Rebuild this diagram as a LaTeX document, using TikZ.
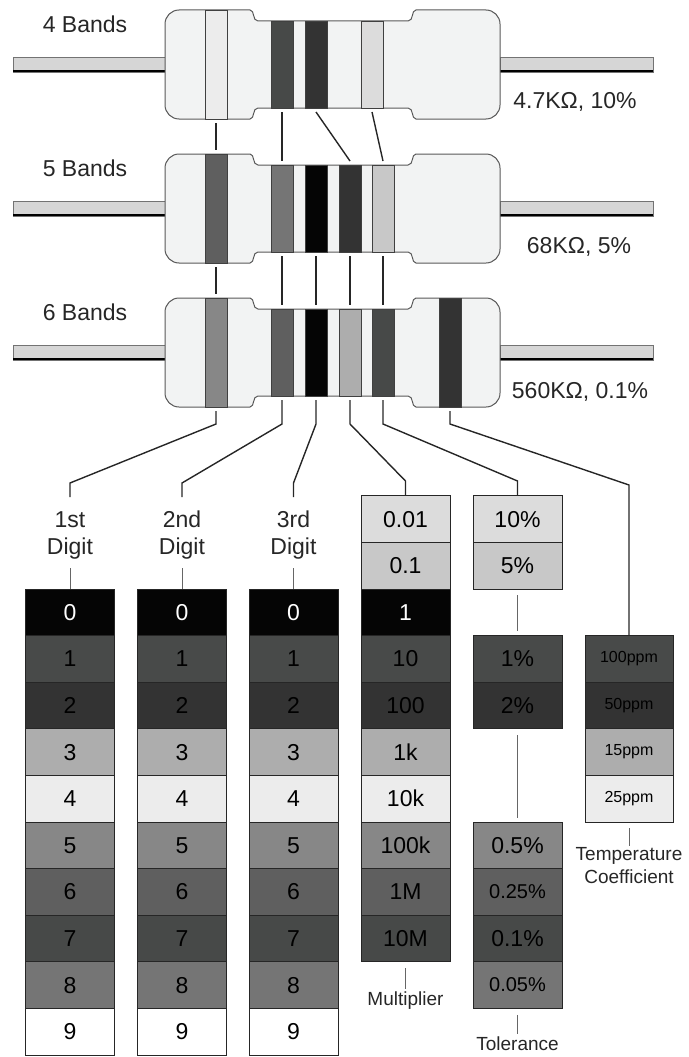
\documentclass[tikz,border=0pt]{standalone}
\usepackage{fontspec}
\setmainfont{Liberation Sans}
\usetikzlibrary{positioning,calc}

% colour code, printed in grey
\definecolor{cblack}{HTML}{050505}
\definecolor{cbrown}{HTML}{484A49}
\definecolor{cred}{HTML}{333333}
\definecolor{corange}{HTML}{ADADAD}
\definecolor{cyellow}{HTML}{ECECEC}
\definecolor{cgreen}{HTML}{878787}
\definecolor{cblue}{HTML}{5F5F5F}
\definecolor{cviolet}{HTML}{474948}
\definecolor{cgrey}{HTML}{757575}
\definecolor{cwhite}{HTML}{FFFFFF}
\definecolor{cgold}{HTML}{C8C8C8}
\definecolor{csilver}{HTML}{DCDCDC}
\definecolor{bodycol}{HTML}{F2F3F3}

% resistor with its two leads, #1 = top edge
\newcommand{\resbody}[1]{%
  \draw[lead] (13,#1+47) rectangle (165,#1+62);
  \draw[line width=2] (13,#1+61) -- (165,#1+61);
  \draw[lead] (500,#1+47) rectangle (653,#1+62);
  \draw[line width=2] (500,#1+61) -- (653,#1+61);
  \draw[body] (250,#1) -- (179,#1) .. controls (171.3,#1) and (165,#1+6.3) .. (165,#1+14)
    -- (165,#1+95) .. controls (165,#1+102.7) and (171.3,#1+109) .. (179,#1+109)
    -- (250,#1+109) .. controls (255,#1+109) and (252,#1+98) .. (258,#1+98)
    -- (408,#1+98) .. controls (414,#1+98) and (411,#1+109) .. (416,#1+109)
    -- (486,#1+109) .. controls (493.7,#1+109) and (500,#1+102.7) .. (500,#1+95)
    -- (500,#1+14) .. controls (500,#1+6.3) and (493.7,#1) .. (486,#1)
    -- (416,#1) .. controls (411,#1) and (414,#1+11) .. (408,#1+11)
    -- (258,#1+11) .. controls (252,#1+11) and (255,#1) .. (250,#1) -- cycle;
}
% bands: #1 = top edge, #2 = x, #3 = colour
\newcommand{\wideband}[3]{\draw[band, fill=#3] (#2-11,#1) rectangle (#2+11,#1+109);}
\newcommand{\midband}[3]{\draw[band, fill=#3] (#2-11,#1+11) rectangle (#2+11,#1+98);}

\begin{document}
\begin{tikzpicture}[x=1pt, y=-1pt,
    lead/.style={draw=black!55, fill=black!16, line width=0.8},
    body/.style={draw=black!65, fill=bodycol, line width=1},
    band/.style={draw=black!75, line width=0.8},
    wire/.style={line width=1.4, black!85},
    stub/.style={line width=0.7, black!60},
    lbl/.style={font=\fontsize{23}{27}\selectfont, text=black!85, inner sep=0},
    tag/.style={font=\fontsize{19}{23}\selectfont, text=black!85, inner sep=0},
    cell/.style={draw=black!85, line width=0.8, minimum width=89, minimum height=46.6,
      inner sep=0, font=\fontsize{23}{23}\selectfont}]
    \useasboundingbox (0,0) rectangle (688,1057);

    % 4 bands: 4.7K, 10%
    \resbody{10}
    \wideband{10}{216}{cyellow}
    \midband{10}{282}{cviolet}
    \midband{10}{316}{cred}
    \midband{10}{372}{csilver}
    \node[lbl] (t4) at (85,24) {4 Bands};
    \node[lbl, anchor=base] (v4) at (575,108) {4.7KΩ, 10\%};

    % 5 bands: 68K, 5%
    \resbody{154}
    \wideband{154}{216}{cblue}
    \midband{154}{282}{cgrey}
    \midband{154}{316}{cblack}
    \midband{154}{350}{cred}
    \midband{154}{383}{cgold}
    \node[lbl] (t5) at (85,168) {5 Bands};
    \node[lbl, anchor=base] (v5) at (579,253) {68KΩ, 5\%};

    % 6 bands: 560K, 0.1%
    \resbody{298}
    \wideband{298}{216}{cgreen}
    \midband{298}{282}{cblue}
    \midband{298}{316}{cblack}
    \midband{298}{350}{corange}
    \midband{298}{383}{cviolet}
    \wideband{298}{450}{cred}
    \node[lbl] (t6) at (85,312) {6 Bands};
    \node[lbl, anchor=base] (v6) at (580,398) {560KΩ, 0.1\%};

    % band ends
    \coordinate (a1) at (216,123);
    \foreach \i/\x in {2/282,3/316,4/372} \coordinate (a\i) at (\x,112);
    \coordinate (b1t) at (216,150);
    \coordinate (b1) at (216,267);
    \foreach \i/\x in {2/282,3/316,4/350,5/383} {
      \coordinate (b\i t) at (\x,161);
      \coordinate (b\i) at (\x,256);
    }
    \coordinate (c1t) at (216,294);
    \coordinate (c1) at (216,411);
    \foreach \i/\x in {2/282,3/316,4/350,5/383} {
      \coordinate (c\i t) at (\x,305);
      \coordinate (c\i) at (\x,400);
    }
    \coordinate (c6) at (450,411);

    % 4 bands -> 5 bands -> 6 bands
    \draw[wire] (a1) -- (b1t);
    \draw[wire] (a2) -- (b2t);
    \draw[wire] (a3) -- (b4t);
    \draw[wire] (a4) -- (b5t);
    \foreach \i in {1,...,5} \draw[wire] (b\i) -- (c\i t);

    % digit columns
    \foreach \x/\k/\s in {70/1/1st,182/2/2nd,293.5/3/3rd} {
      \foreach \v/\c/\t [count=\r from 0] in {0/cblack/white,1/cbrown/black,2/cred/black,
          3/corange/black,4/cyellow/black,5/cgreen/black,6/cblue/black,7/cviolet/black,
          8/cgrey/black,9/cwhite/black}
        \node[cell, fill=\c, text=\t] (d\k-\r) at (\x,612.3+46.6*\r) {\v};
      \node[lbl, align=center] (l\k) at (\x,535) {\s\\Digit};
      \draw[stub] (d\k-0.north) -- ++(0,-21);
    }

    % multiplier
    \foreach \v/\c/\t [count=\r] in {0.01/csilver/black,0.1/cgold/black,1/cblack/white,
        10/cbrown/black,100/cred/black,1k/corange/black,10k/cyellow/black,
        100k/cgreen/black,1M/cblue/black,10M/cviolet/black}
      \node[cell, fill=\c, text=\t] (mul\r) at (405.5,612.3+46.6*\r-139.8) {\v};
    \node[tag] (mlab) at (405.5,1001) {Multiplier};
    \draw[stub, shorten <=6pt, shorten >=3pt] (mul10.south) -- (mlab.north);

    % tolerance
    \foreach \v/\y/\c/\s [count=\r] in {10\%/-2/csilver/23,5\%/-1/cgold/23,
        1\%/1/cbrown/23,2\%/2/cred/23,0.5\%/5/cgreen/23,0.25\%/6/cblue/20,
        0.1\%/7/cviolet/23,0.05\%/8/cgrey/20}
      \node[cell, fill=\c, font=\fontsize{\s}{\s}\selectfont] (tol\r) at (517.5,612.3+46.6*\y) {\v};
    \draw[stub, shorten <=6pt, shorten >=4pt] (tol2.south) -- (tol3.north);
    \draw[stub, shorten <=6pt, shorten >=4pt] (tol4.south) -- (tol5.north);
    \node[tag] (tlab) at (517.5,1044) {Tolerance};
    \draw[stub, shorten <=6pt, shorten >=3pt] (tol8.south) -- (tlab.north);

    % temperature coefficient
    \foreach \v/\c [count=\r] in {100ppm/cbrown,50ppm/cred,15ppm/corange,25ppm/cyellow}
      \node[cell, fill=\c, minimum width=88, font=\fontsize{16}{16}\selectfont] (tc\r) at (629,612.3+46.6*\r) {\v};
    \node[tag, align=center] (clab) at (629,866) {Temperature\\Coefficient};
    \draw[stub, shorten <=6pt, shorten >=2pt] (tc4.south) -- (clab.north);

    % 6 bands -> tables
    \coordinate (k) at (0,424);
    \coordinate (h1) at (70,483);
    \coordinate (h2) at (182,483);
    \coordinate (h3) at (293.5,483);
    \coordinate (h4) at (405.5,481);
    \coordinate (h5) at (517.5,481);
    \coordinate (h6) at (629,485);
    \foreach \i in {1,2,3} \draw[wire] (c\i) -- (c\i |- k) -- (h\i) -- ++(0,14);
    \draw[wire] (c4) -- (c4 |- k) -- (h4) -- (mul1.north);
    \draw[wire] (c5) -- (c5 |- k) -- (h5) -- (tol1.north);
    \draw[wire] (c6) -- (c6 |- k) -- (h6) -- (tc1.north);
\end{tikzpicture}
\end{document}
